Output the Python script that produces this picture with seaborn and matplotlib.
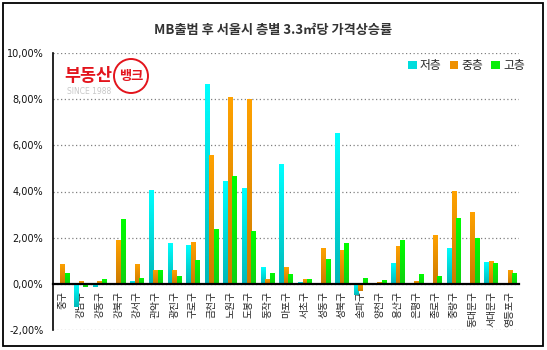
import numpy as np
import pandas as pd
import matplotlib
matplotlib.use("Agg")
import matplotlib.pyplot as plt
import seaborn as sns
from matplotlib.patches import Patch, Rectangle, Ellipse
from matplotlib.colors import LinearSegmentedColormap

districts = ["중구", "강남구", "강동구", "강북구", "강서구", "관악구", "광진구", "구로구",
             "금천구", "노원구", "도봉구", "동작구", "마포구", "서초구", "성동구", "성북구",
             "송파구", "양천구", "용산구", "은평구", "종로구", "중랑구", "동대문구", "서대문구",
             "영등포구"]
series_names = ["저층", "중층", "고층"]
low = [0.0, -1.0, -0.12, 0.0, 0.14, 4.07, 1.79, 1.69, 8.67, 4.47, 4.13, 0.71, 5.17,
       0.09, 0.0, 6.54, -0.50, 0.04, 0.91, 0.0, 0.0, 1.56, 0.0, 0.95, 0.0]
mid = [0.87, 0.14, 0.14, 1.90, 0.87, 0.62, 0.58, 1.83, 5.60, 8.10, 8.01, 0.23, 0.71,
       0.19, 1.56, 1.47, -0.29, 0.09, 1.65, 0.13, 2.12, 4.03, 3.12, 1.00, 0.61]
high = [0.48, -0.15, 0.19, 2.81, 0.27, 0.58, 0.36, 1.05, 2.38, 4.69, 2.29, 0.48, 0.43,
        0.19, 1.08, 1.77, 0.26, 0.17, 1.90, 0.43, 0.35, 2.86, 1.99, 0.91, 0.48]
yticks = [-2, 0, 2, 4, 6, 8, 10]
title = "MB출범 후 서울시 층별 3.3㎡당 가격상승률"

top_colors = ["#00FFFF", "#FFA200", "#00FF00"]
bottom_colors = ["#00B8B8", "#CC7A00", "#10D010"]
mid_colors = ["#00DDDD", "#EE9000", "#08EE08"]

df = pd.DataFrame({
    "구": districts * 3,
    "층": [s for s in series_names for _ in districts],
    "값": low + mid + high,
})

sns.set_style("white")
plt.rcParams["font.family"] = ["Noto Sans CJK KR", "DejaVu Sans"]

W, H = 547, 350
fig = plt.figure(figsize=(W / 100, H / 100), dpi=100)
ax = fig.add_axes([53 / W, 1 - 330 / H, (519 - 53) / W, (330 - 53) / H])

sns.barplot(data=df, x="구", y="값", hue="층", order=districts, hue_order=series_names,
            palette=dict(zip(series_names, mid_colors)), width=0.72, gap=0.05,
            ax=ax, legend=False, linewidth=0, saturation=1)

# gradient fill of bars (light top, dark bottom)
grad = np.linspace(0, 1, 64).reshape(-1, 1)
cmaps = [LinearSegmentedColormap.from_list(f"g{i}", [bottom_colors[i], top_colors[i]])
         for i in range(3)]
n = len(districts)
for idx, p in enumerate(list(ax.patches)):
    s = idx // n
    x0, y0 = p.get_x(), p.get_y()
    w, h = p.get_width(), p.get_height()
    if h == 0:
        continue
    ylo, yhi = min(y0, y0 + h), max(y0, y0 + h)
    im = ax.imshow(grad, cmap=cmaps[s], origin="lower", aspect="auto",
                   extent=(x0, x0 + w, ylo, yhi), zorder=p.get_zorder() + 0.1)
    im.set_clip_path(p)

ax.set_xlim(-0.5, n - 0.5)
ax.set_ylim(-2, 10)
ax.set_xlabel("")
ax.set_ylabel("")

ax.set_yticks(yticks)
ax.set_yticklabels([f"{v:.2f}".replace(".", ",") + "%" for v in yticks])
for t in ax.get_yticklabels():
    t.set_fontsize(7)
    t.set_family("DejaVu Sans")
    t.set_color("#111111")
ax.yaxis.grid(True, linestyle=(0, (1, 2)), color="#808080", linewidth=0.9)
ax.set_axisbelow(True)

ax.set_xticks(range(n))
ax.set_xticklabels(districts)
ax.set_xticks(np.arange(n + 1) - 0.5, minor=True)
ax.tick_params(axis="x", which="major", length=0, pad=5, labelrotation=90, labelsize=7,
               labelcolor="#222222")
for t in ax.get_xticklabels():
    t.set_rotation(90)
    t.set_va("top")
    t.set_ha("center")
ax.tick_params(axis="x", which="minor", length=3, width=1, direction="out", color="black")
ax.tick_params(axis="y", length=3, width=1, direction="out", color="black", pad=4)

for side in ["top", "right"]:
    ax.spines[side].set_visible(False)
ax.spines["bottom"].set_position(("data", 0))
ax.spines["bottom"].set_color("black")
ax.spines["bottom"].set_linewidth(1.6)
ax.spines["left"].set_color("black")
ax.spines["left"].set_linewidth(1.2)

fig.text(0.5, 1 - 30 / H, title, ha="center", va="center", fontsize=9.5,
         fontweight="bold", color="#333333")

handles = [Patch(facecolor=mid_colors[i], edgecolor="none", label=series_names[i]) for i in range(3)]
fig.legend(handles=handles, loc="upper right", bbox_to_anchor=(525 / W, 1 - 59 / H),
           ncol=3, frameon=False, fontsize=8.5, handlelength=0.75, handleheight=0.75,
           handletextpad=0.25, columnspacing=0.7, borderpad=0, borderaxespad=0)

# logo watermark
red = "#E3141C"
fig.text(64 / W, 1 - 76 / H, "부동산", ha="left", va="center", fontsize=12.5,
         fontweight="bold", color=red)
fig.text(67 / W, 1 - 92 / H, "SINCE 1988", ha="left", va="center", fontsize=5.5,
         color="#C8C8C8", family="DejaVu Sans")
circ = Ellipse((131 / W, 1 - 76 / H), 34 / W, 34 / H, transform=fig.transFigure,
               facecolor="none", edgecolor=red, linewidth=1.4)
fig.patches.append(circ)
fig.text(131 / W, 1 - 76 / H, "뱅크", ha="center", va="center", fontsize=9.5,
         fontweight="bold", color=red)

# outer frame
frame = Rectangle((2.5 / W, 1 - 345.5 / H), (543 - 2.5) / W, (345.5 - 2.5) / H,
                  transform=fig.transFigure, facecolor="none", edgecolor="black", linewidth=1.3)
fig.patches.append(frame)

fig.savefig("out.png", dpi=100)
